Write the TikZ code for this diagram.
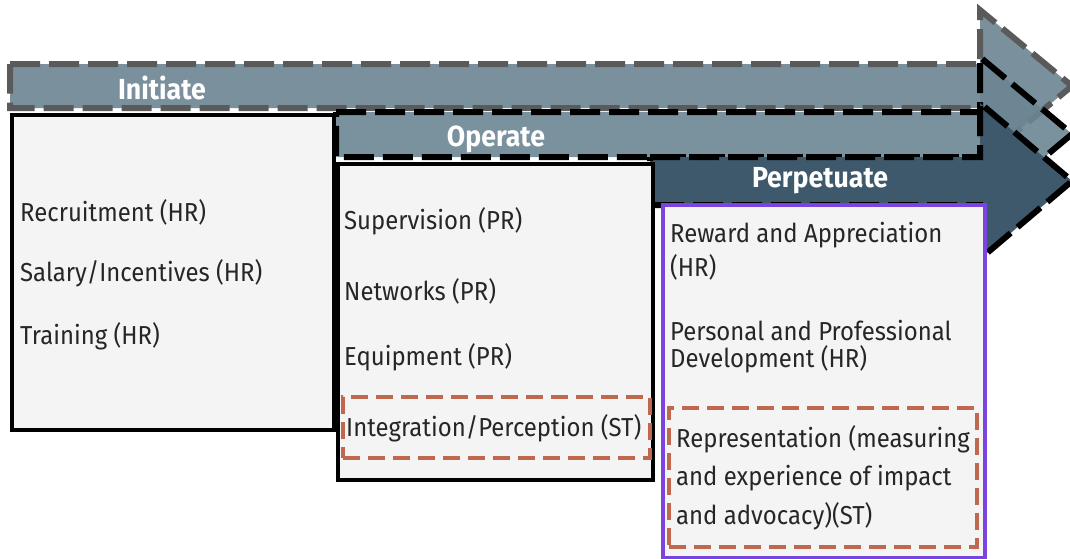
\documentclass[tikz,border=0pt]{standalone}
\usepackage{fontspec}
\setmainfont{Fira Sans}[FakeStretch=0.92]
\usetikzlibrary{positioning}
\definecolor{initfill}{HTML}{7B909D}
\definecolor{operfill}{HTML}{6C8594}
\definecolor{perpfill}{HTML}{3E596C}
\definecolor{dashgray}{HTML}{5A5A5A}
\definecolor{boxgray}{HTML}{F4F4F4}
\definecolor{stred}{HTML}{C0674F}
\definecolor{perpviolet}{HTML}{7B44E0}
\tikzset{
  phase arrow/.style={line width=6pt, dash pattern=on 30pt off 9pt, line join=miter},
  phase box/.style={draw=black, line width=3.5pt, fill=boxgray, anchor=north west, inner sep=0pt},
  st box/.style={draw=stred, line width=3.5pt, dash pattern=on 17pt off 8pt, anchor=north west, inner sep=0pt},
  phase title/.style={text=white, font=\fontsize{29}{32}\selectfont\bfseries},
  item/.style={anchor=west, inner sep=0pt, font=\fontsize{26}{30}\selectfont, text=black!85}
}
\begin{document}
\begin{tikzpicture}[x=1pt,y=-1pt]
    \useasboundingbox (0,0) rectangle (1070,558);
    \clip (0,0) rectangle (1070,558);
    % phase arrows
    \draw[phase arrow, draw=dashgray, fill=initfill]
        (10,64) -- (980,64) -- (980,10) -- (1072,86) -- (980,162) -- (980,108) -- (10,108) -- cycle;
    \draw[phase arrow, draw=black, fill=operfill, fill opacity=0.9]
        (336,112) -- (980,112) -- (980,57) -- (1072,134) -- (980,211) -- (980,157) -- (336,157) -- cycle;
    \draw[phase arrow, draw=black, fill=perpfill]
        (650,157) -- (980,157) -- (980,103) -- (1072,181) -- (980,259) -- (980,205) -- (650,205) -- cycle;
    \node[phase title] (initiate) at (162,88) {Initiate};
    \node[phase title] (operate) at (496,139) {Operate};
    \node[phase title] (perpetuate) at (820,181) {Perpetuate};
    % phase boxes
    \node[phase box, minimum width=322pt, minimum height=315pt] (initbox) at (10,113) {};
    \node[phase box, minimum width=315pt, minimum height=316pt] (operbox) at (336,162) {};
    \node[phase box, draw=perpviolet, minimum width=322pt, minimum height=353pt] (perpbox) at (661,203) {};
    \node[st box, minimum width=307pt, minimum height=61pt] (opst) at (341,395) {};
    \node[st box, minimum width=308pt, minimum height=139pt] (perpst) at (667,406) {};
    % initiate items
    \node[item] (recruit) at (20,212) {Recruitment (HR)};
    \node[item] (salary) at (20,273) {Salary/Incentives (HR)};
    \node[item] (training) at (20,336) {Training (HR)};
    % operate items
    \node[item] (superv) at (344,221) {Supervision (PR)};
    \node[item] (networks) at (344,291) {Networks (PR)};
    \node[item] (equip) at (344,357) {Equipment (PR)};
    \node[item] (integr) at (346,428) {Integration/Perception (ST)};
    % perpetuate items
    \node[item] (reward) at (670,235) {Reward and Appreciation};
    \node[item] (rewardhr) at (670,267) {(HR)};
    \node[item] (personal) at (670,331) {Personal and Professional};
    \node[item] (develop) at (670,359) {Development (HR)};
    \node[item] (repr) at (676,439) {Representation (measuring};
    \node[item] (experience) at (676,478) {and experience of impact};
    \node[item] (advocacy) at (676,516) {and advocacy)(ST)};
\end{tikzpicture}
\end{document}
